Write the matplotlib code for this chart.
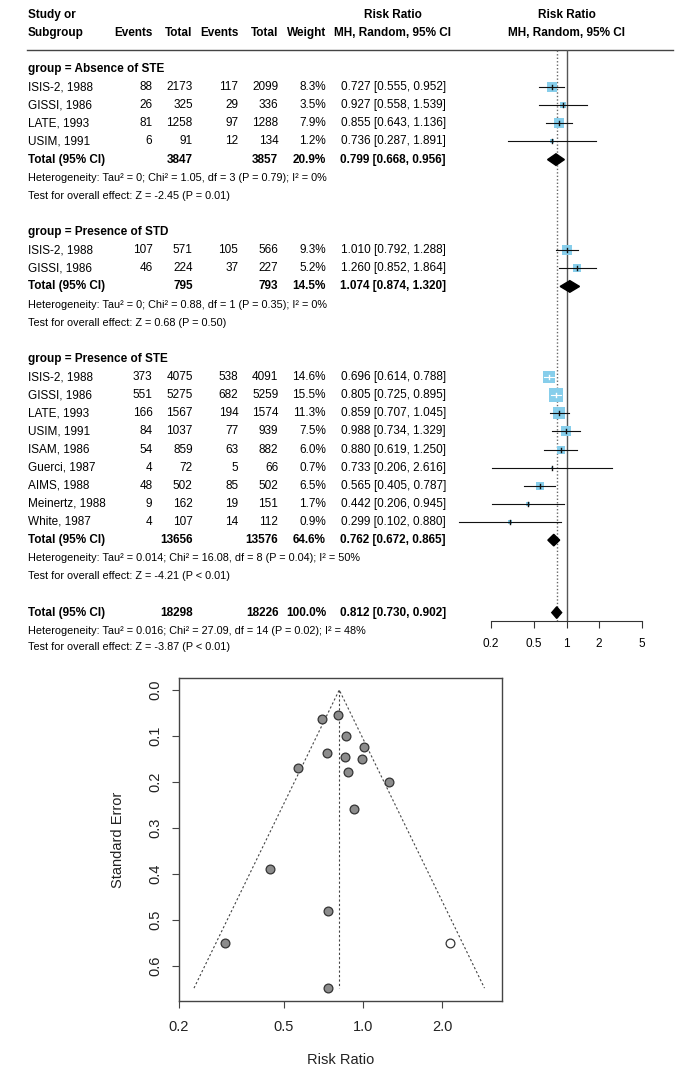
import numpy as np
import matplotlib
matplotlib.use("Agg")
import matplotlib.pyplot as plt
from matplotlib.patches import Polygon
from matplotlib.ticker import FixedLocator, NullLocator

plt.rcParams['font.family'] = ['Liberation Sans', 'DejaVu Sans']

# ---- data ----
studies = ["ISIS-2, 1988", "GISSI, 1986", "LATE, 1993", "USIM, 1991",
           "ISIS-2, 1988", "GISSI, 1986",
           "ISIS-2, 1988", "GISSI, 1986", "LATE, 1993", "USIM, 1991", "ISAM, 1986",
           "Guerci, 1987", "AIMS, 1988", "Meinertz, 1988", "White, 1987"]
study_group = [0, 0, 0, 0, 1, 1, 2, 2, 2, 2, 2, 2, 2, 2, 2]
events_e = [88, 26, 81, 6, 107, 46, 373, 551, 166, 84, 54, 4, 48, 9, 4]
total_e = [2173, 325, 1258, 91, 571, 224, 4075, 5275, 1567, 1037, 859, 72, 502, 162, 107]
events_c = [117, 29, 97, 12, 105, 37, 538, 682, 194, 77, 63, 5, 85, 19, 14]
total_c = [2099, 336, 1288, 134, 566, 227, 4091, 5259, 1574, 939, 882, 66, 502, 151, 112]
weight = [8.3, 3.5, 7.9, 1.2, 9.3, 5.2, 14.6, 15.5, 11.3, 7.5, 6.0, 0.7, 6.5, 1.7, 0.9]
rr = [0.727, 0.927, 0.855, 0.736, 1.010, 1.260, 0.696, 0.805, 0.859, 0.988, 0.880,
      0.733, 0.565, 0.442, 0.299]
rr_lo = [0.555, 0.558, 0.643, 0.287, 0.792, 0.852, 0.614, 0.725, 0.707, 0.734, 0.619,
         0.206, 0.405, 0.206, 0.102]
rr_hi = [0.952, 1.539, 1.136, 1.891, 1.288, 1.864, 0.788, 0.895, 1.045, 1.329, 1.250,
         2.616, 0.787, 0.945, 0.880]

group_names = ["group = Absence of STE", "group = Presence of STD", "group = Presence of STE"]
group_total_e = [3847, 795, 13656]
group_total_c = [3857, 793, 13576]
group_weight = [20.9, 14.5, 64.6]
group_rr = [0.799, 1.074, 0.762]
group_lo = [0.668, 0.874, 0.672]
group_hi = [0.956, 1.320, 0.865]
group_het = ["Heterogeneity: Tau² = 0; Chi² = 1.05, df = 3 (P = 0.79); I² = 0%",
             "Heterogeneity: Tau² = 0; Chi² = 0.88, df = 1 (P = 0.35); I² = 0%",
             "Heterogeneity: Tau² = 0.014; Chi² = 16.08, df = 8 (P = 0.04); I² = 50%"]
group_test = ["Test for overall effect: Z = -2.45 (P = 0.01)",
              "Test for overall effect: Z = 0.68 (P = 0.50)",
              "Test for overall effect: Z = -4.21 (P < 0.01)"]

overall_total_e = 18298
overall_total_c = 18226
overall_weight = 100.0
overall_rr = 0.812
overall_lo = 0.730
overall_hi = 0.902
overall_het = "Heterogeneity: Tau² = 0.016; Chi² = 27.09, df = 14 (P = 0.02); I² = 48%"
overall_test = "Test for overall effect: Z = -3.87 (P < 0.01)"

# funnel plot: standard errors of each study, plus one imputed (trim-and-fill) study
funnel_se = [0.138, 0.259, 0.145, 0.481, 0.124, 0.200, 0.064, 0.054, 0.100, 0.151,
             0.179, 0.648, 0.170, 0.389, 0.550]
filled_rr = [2.13]
filled_se = [0.550]

forest_ticks = [0.2, 0.5, 1, 2, 5]
funnel_xticks = [0.2, 0.5, 1.0, 2.0]
funnel_yticks = [0.0, 0.1, 0.2, 0.3, 0.4, 0.5, 0.6]

# ---- layout (pixels) ----
W, H = 691, 1076
ROW0, ROW_H = 69.0, 18.12
FS = 8.5
FS_SMALL = 7.8
SQ = '#87CEEB'


def ypx(r):
    return ROW0 + ROW_H * r


def sq_side(w):
    # square side in pixels, area proportional to weight
    return 3.4 * np.sqrt(w)


fig = plt.figure(figsize=(W / 100, H / 100), dpi=100)
tx = fig.add_axes([0, 0, 1, 1])
tx.set_xlim(0, W)
tx.set_ylim(H, 0)
tx.axis('off')

# header
col_x = [152.5, 192.7, 238.3, 278.3, 326.0]
tx.text(28, 15, "Study or", fontsize=FS, fontweight='bold', va='center')
tx.text(28, 33, "Subgroup", fontsize=FS, fontweight='bold', va='center')
for x, lab in zip(col_x, ["Events", "Total", "Events", "Total", "Weight"]):
    tx.text(x, 33, lab, fontsize=FS, fontweight='bold', va='center', ha='right')
for x in [393, 566.8]:
    tx.text(x, 15, "Risk Ratio", fontsize=FS, fontweight='bold', va='center', ha='center')
    tx.text(x, 33, "MH, Random, 95% CI", fontsize=FS, fontweight='bold', va='center', ha='center')
tx.plot([27, 673], [50, 50], color='#444444', lw=1.0)

# forest axes
fx = fig.add_axes([491 / W, 1 - 621 / H, 151 / W, (621 - 50) / H])
fx.patch.set_visible(False)
fx.set_xscale('log')
fx.set_xlim(0.2, 5)
fx.set_ylim((621 - ROW0) / ROW_H, (50 - ROW0) / ROW_H)
ppd = 151 / np.log10(25)  # pixels per decade


def row_text(r, cells, bold=False):
    fw = 'bold' if bold else 'normal'
    for x, s in zip(col_x + [446], cells):
        if s != "":
            tx.text(x, ypx(r), s, fontsize=FS, fontweight=fw, va='center', ha='right')


def diamond(r, est, lo, hi):
    h = 0.32
    fx.add_patch(Polygon([(lo, r), (est, r - h), (hi, r), (est, r + h)],
                         closed=True, color='black', zorder=4))


r = 0
for g in range(len(group_names)):
    tx.text(28, ypx(r), group_names[g], fontsize=FS, fontweight='bold', va='center')
    r += 1
    idx = [i for i in range(len(studies)) if study_group[i] == g]
    for i in idx:
        tx.text(28, ypx(r), studies[i], fontsize=FS, va='center')
        row_text(r, [str(events_e[i]), str(total_e[i]), str(events_c[i]), str(total_c[i]),
                     f"{weight[i]:.1f}%", f"{rr[i]:.3f} [{rr_lo[i]:.3f}, {rr_hi[i]:.3f}]"])
        side = sq_side(weight[i])
        fx.scatter([rr[i]], [r], marker='s', s=(side * 0.72) ** 2, color=SQ,
                   linewidths=0, zorder=2)
        inside = ((np.log10(rr_hi[i]) - np.log10(rr[i])) * ppd < side / 2 and
                  (np.log10(rr[i]) - np.log10(rr_lo[i])) * ppd < side / 2)
        c = 'white' if inside else '#111111'
        fx.plot([rr_lo[i], rr_hi[i]], [r, r], color=c, lw=0.8, clip_on=False, zorder=3)
        fx.plot([rr[i], rr[i]], [r - 0.11, r + 0.11], color=c, lw=1.0, zorder=3)
        r += 1
    tx.text(28, ypx(r), "Total (95% CI)", fontsize=FS, fontweight='bold', va='center')
    row_text(r, ["", str(group_total_e[g]), "", str(group_total_c[g]), f"{group_weight[g]:.1f}%",
                 f"{group_rr[g]:.3f} [{group_lo[g]:.3f}, {group_hi[g]:.3f}]"], bold=True)
    diamond(r, group_rr[g], group_lo[g], group_hi[g])
    r += 1
    tx.text(28, ypx(r), group_het[g], fontsize=FS_SMALL, va='center')
    r += 1
    tx.text(28, ypx(r), group_test[g], fontsize=FS_SMALL, va='center')
    r += 2

tx.text(28, ypx(r), "Total (95% CI)", fontsize=FS, fontweight='bold', va='center')
row_text(r, ["", str(overall_total_e), "", str(overall_total_c), f"{overall_weight:.1f}%",
             f"{overall_rr:.3f} [{overall_lo:.3f}, {overall_hi:.3f}]"], bold=True)
diamond(r, overall_rr, overall_lo, overall_hi)
tx.text(28, ypx(r + 1), overall_het, fontsize=FS_SMALL, va='center')
tx.text(28, ypx(r + 2) - 2, overall_test, fontsize=FS_SMALL, va='center')

fx.axvline(1, color='#555555', lw=1.0, zorder=1)
fx.axvline(overall_rr, color='#666666', lw=1.0, ls=(0, (1, 1.5)), zorder=1)
for s in ['top', 'left', 'right']:
    fx.spines[s].set_visible(False)
fx.spines['bottom'].set_bounds(0.2, 5)
fx.spines['bottom'].set_color('#333333')
fx.xaxis.set_major_locator(FixedLocator(forest_ticks))
fx.xaxis.set_minor_locator(NullLocator())
fx.set_xticklabels([f"{t:g}" for t in forest_ticks])
fx.set_yticks([])
fx.tick_params(axis='x', length=5, width=0.8, color='#333333', labelsize=8.5, pad=7)

# funnel plot
ux = fig.add_axes([179 / W, 1 - 1001 / H, 323 / W, 323 / H])
ux.set_xscale('log')
ux.set_xlim(0.2, 3.37)
ux.set_ylim(0.676, -0.026)
se_max = max(funnel_se + filled_se)
lo_end = overall_rr * np.exp(-1.96 * se_max)
hi_end = overall_rr * np.exp(1.96 * se_max)
ux.plot([lo_end, overall_rr, hi_end], [se_max, 0, se_max], color='#444444', lw=0.8,
        ls=(0, (2, 2)))
ux.plot([overall_rr, overall_rr], [0, se_max], color='#444444', lw=0.8, ls=(0, (2, 2)))
ux.scatter(rr, funnel_se, s=40, color='#8c8c8c', edgecolors='#333333', linewidths=0.9, zorder=3)
ux.scatter(filled_rr, filled_se, s=40, color='white', edgecolors='#333333', linewidths=0.9, zorder=3)
ux.xaxis.set_major_locator(FixedLocator(funnel_xticks))
ux.xaxis.set_minor_locator(NullLocator())
ux.set_xticklabels([f"{t:.1f}" for t in funnel_xticks])
ux.set_yticks(funnel_yticks)
ux.set_yticklabels([f"{t:.1f}" for t in funnel_yticks], rotation=90, va='center')
ux.tick_params(axis='both', length=5, width=0.8, color='#444444', labelsize=10.5,
               labelcolor='#222222')
ux.tick_params(axis='x', pad=9)
ux.tick_params(axis='y', pad=7)
for s in ux.spines.values():
    s.set_color('#444444')
    s.set_linewidth(1.0)
tx.text(340.5, 1060, "Risk Ratio", fontsize=10.5, ha='center', va='center', color='#222222')
tx.text(118, 840, "Standard Error", fontsize=10.5, ha='center', va='center', rotation=90,
        color='#222222')

fig.savefig("out.png", dpi=100)
